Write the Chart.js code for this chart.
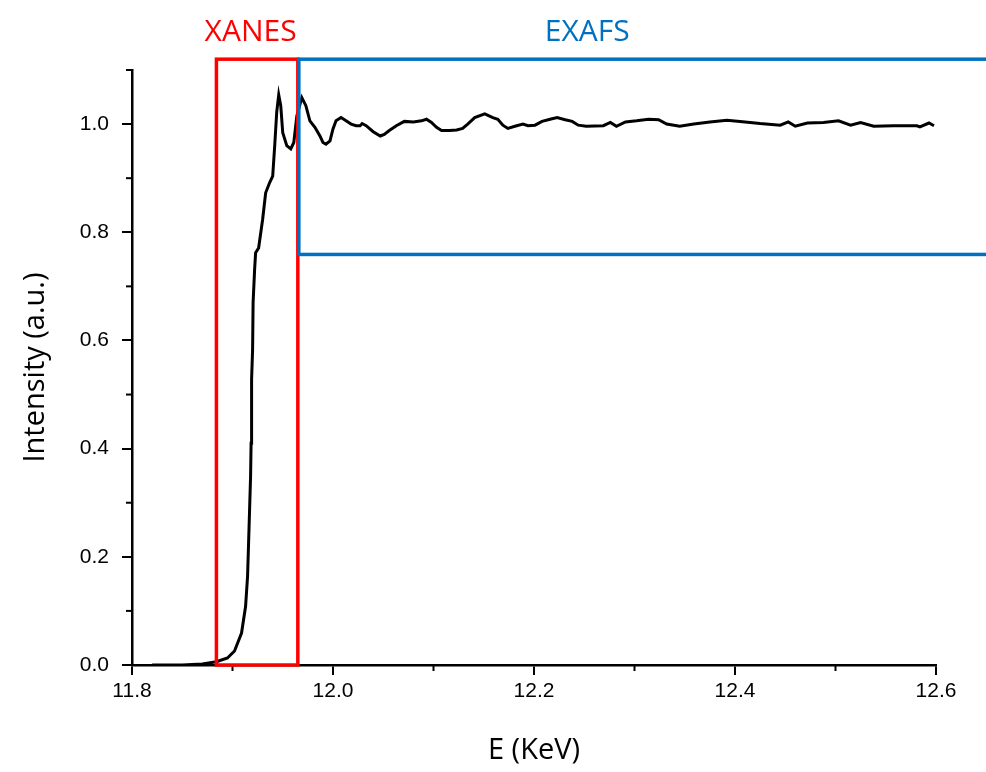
<!DOCTYPE html>
<html>
<head>
<meta charset="utf-8">
<script src="https://cdn.jsdelivr.net/npm/chart.js@4.4.0/dist/chart.umd.min.js"></script>
<style>
  body { margin: 0; background: #fff; }
  #wrap { width: 986px; height: 772px; }
</style>
</head>
<body>
<div id="wrap"><canvas id="myChart"></canvas></div>
<script>
// energy (KeV) and normalised intensity
const energy = [11.82, 11.85, 11.87, 11.884, 11.895, 11.902, 11.909, 11.913, 11.915, 11.916, 11.917,
  11.918, 11.9185, 11.919, 11.920, 11.9205, 11.922, 11.923, 11.926, 11.930, 11.933, 11.937, 11.940,
  11.942, 11.944, 11.946, 11.948, 11.950, 11.954, 11.958, 11.961, 11.964, 11.969, 11.973, 11.977,
  11.982, 11.987, 11.990, 11.993, 11.997, 12.000, 12.003, 12.008, 12.013, 12.018, 12.023, 12.027,
  12.029, 12.033, 12.040, 12.047, 12.051, 12.056, 12.063, 12.071, 12.080, 12.088, 12.093, 12.098,
  12.103, 12.108, 12.116, 12.123, 12.129, 12.134, 12.141, 12.151, 12.159, 12.164, 12.169, 12.174,
  12.181, 12.189, 12.194, 12.201, 12.208, 12.216, 12.223, 12.231, 12.238, 12.244, 12.252, 12.269,
  12.276, 12.282, 12.291, 12.302, 12.314, 12.324, 12.332, 12.345, 12.359, 12.375, 12.392, 12.405,
  12.425, 12.445, 12.453, 12.460, 12.472, 12.488, 12.503, 12.515, 12.525, 12.538, 12.558, 12.581,
  12.584, 12.593, 12.598];
const intensity = [0.0, 0.0, 0.002, 0.006, 0.013, 0.026, 0.059, 0.108, 0.164, 0.225, 0.287,
  0.349, 0.41, 0.528, 0.583, 0.67, 0.731, 0.762, 0.771, 0.824, 0.873, 0.892, 0.904,
  0.96, 1.022, 1.054, 1.034, 0.984, 0.96, 0.954, 0.966, 1.015, 1.049, 1.034, 1.006,
  0.994, 0.978, 0.966, 0.963, 0.969, 0.991, 1.006, 1.012, 1.006, 1.0, 0.997, 0.997,
  1.001, 0.997, 0.986, 0.978, 0.981, 0.988, 0.997, 1.005, 1.004, 1.006, 1.009, 1.003,
  0.994, 0.988, 0.988, 0.989, 0.992, 1.0, 1.012, 1.019, 1.012, 1.009, 0.998, 0.992,
  0.996, 1.0, 0.997, 0.998, 1.005, 1.009, 1.012, 1.008, 1.005, 0.998, 0.996, 0.997,
  1.003, 0.996, 1.004, 1.006, 1.009, 1.008, 1.0, 0.996, 1.0, 1.004, 1.007, 1.005,
  1.001, 0.998, 1.004, 0.996, 1.002, 1.003, 1.006, 0.998, 1.003, 0.996, 0.997, 0.997,
  0.995, 1.002, 0.997];

// axis ticks
const xTicks = [11.8, 12.0, 12.2, 12.4, 12.6];
const xMinor = [11.9, 12.1, 12.3, 12.5];
const yTicks = [0.0, 0.2, 0.4, 0.6, 0.8, 1.0];
const yMinor = [0.1, 0.3, 0.5, 0.7, 0.9, 1.1];

// region boxes [x0, x1, y0, y1] and their labels
const xanesBox = [11.884, 11.965, 0, 1.12];
const exafsBox = [11.966, 12.75, 0.759, 1.12];
const regionLabels = ['XANES', 'EXAFS'];
const labelX = [11.918, 12.253];
const labelY = 1.17;
const regionColors = ['#ff0000', '#0070c0'];

const points = energy.map((e, i) => ({ x: e, y: intensity[i] }));

// minor ticks, region boxes and labels
const extras = {
  id: 'extras',
  afterDatasetsDraw(chart) {
    const ctx = chart.ctx;
    const xs = chart.scales.x;
    const ys = chart.scales.y;
    ctx.save();
    ctx.strokeStyle = '#000';
    ctx.lineWidth = 2;
    xMinor.forEach(v => {
      const px = xs.getPixelForValue(v);
      ctx.beginPath();
      ctx.moveTo(px, ys.bottom);
      ctx.lineTo(px, ys.bottom + 6);
      ctx.stroke();
    });
    yMinor.forEach(v => {
      const py = ys.getPixelForValue(v);
      ctx.beginPath();
      ctx.moveTo(xs.left, py);
      ctx.lineTo(xs.left - 6, py);
      ctx.stroke();
    });

    [xanesBox, exafsBox].forEach((b, i) => {
      const x0 = xs.getPixelForValue(b[0]);
      const x1 = xs.getPixelForValue(b[1]);
      const y0 = ys.getPixelForValue(b[2]);
      const y1 = ys.getPixelForValue(b[3]);
      ctx.strokeStyle = regionColors[i];
      ctx.lineWidth = 3.5;
      ctx.strokeRect(x0, y1, x1 - x0, y0 - y1);
    });

    ctx.font = '30px "Open Sans"';
    ctx.textAlign = 'center';
    ctx.textBaseline = 'middle';
    regionLabels.forEach((t, i) => {
      ctx.fillStyle = regionColors[i];
      ctx.fillText(t, xs.getPixelForValue(labelX[i]), ys.getPixelForValue(labelY));
    });
    ctx.restore();
  }
};

new Chart('myChart', {
  type: 'line',
  data: {
    datasets: [{
      data: points,
      borderColor: '#000',
      borderWidth: 3,
      pointRadius: 0,
      tension: 0,
      fill: false
    }]
  },
  options: {
    responsive: true,
    maintainAspectRatio: false,
    animation: false,
    layout: { padding: { top: 70, right: 50, left: 0, bottom: 0 } },
    plugins: { legend: { display: false }, tooltip: { enabled: false } },
    scales: {
      x: {
        type: 'linear',
        min: 11.8,
        max: 12.6,
        afterBuildTicks: s => { s.ticks = xTicks.map(v => ({ value: v })); },
        afterFit: s => { s.height = 107; },
        grid: { drawOnChartArea: false, color: '#000', lineWidth: 2, tickLength: 10 },
        border: { color: '#000', width: 2.5 },
        ticks: {
          color: '#000',
          padding: 4,
          maxRotation: 0,
          font: { family: '"Liberation Sans", Arial', size: 21 },
          callback: v => v.toFixed(1)
        },
        title: {
          display: true,
          text: 'E (KeV)',
          color: '#000',
          padding: { top: 0, bottom: 4 },
          font: { family: '"Open Sans"', size: 29 }
        }
      },
      y: {
        min: 0,
        max: 1.1,
        afterBuildTicks: s => { s.ticks = yTicks.map(v => ({ value: v })); },
        afterFit: s => { s.width = 132; },
        grid: { drawOnChartArea: false, color: '#000', lineWidth: 2, tickLength: 10 },
        border: { color: '#000', width: 2.5 },
        ticks: {
          color: '#000',
          padding: 13,
          font: { family: '"Liberation Sans", Arial', size: 21 },
          callback: v => v.toFixed(1)
        },
        title: {
          display: true,
          text: 'Intensity (a.u.)',
          color: '#000',
          padding: { top: 18, bottom: 0 },
          font: { family: '"Open Sans"', size: 29 }
        }
      }
    }
  },
  plugins: [extras]
});
</script>
</body>
</html>
